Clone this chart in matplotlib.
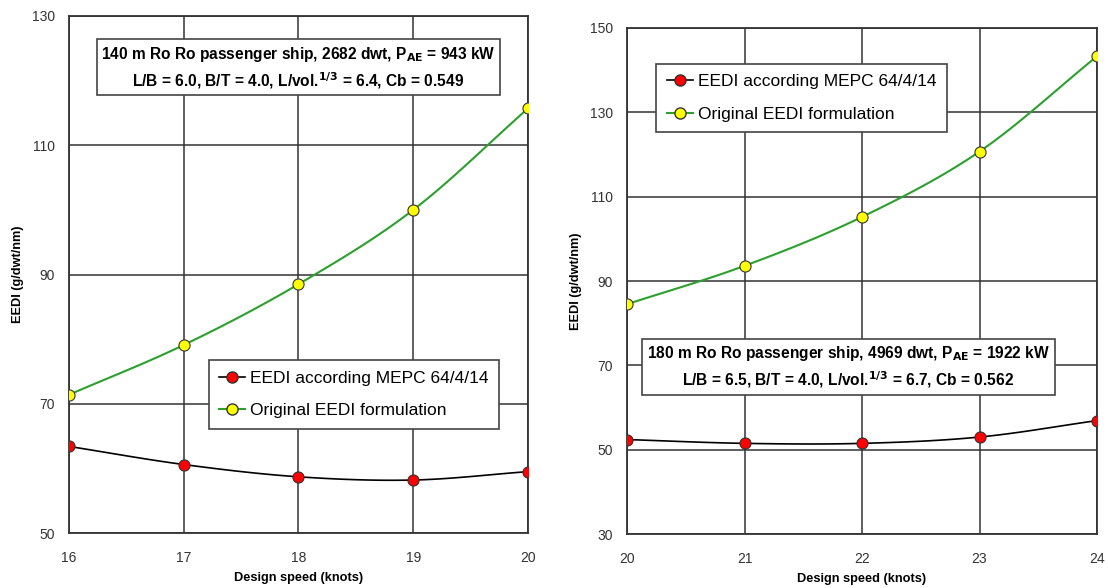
import numpy as np
import matplotlib
matplotlib.use('Agg')
import matplotlib.pyplot as plt

plt.rcParams['font.family'] = ['Liberation Sans', 'DejaVu Sans']

# left chart: 140 m ship
speed_a = [16, 17, 18, 19, 20]
mepc_a = [63.4, 60.6, 58.7, 58.2, 59.5]
orig_a = [71.4, 79.1, 88.5, 100.0, 115.7]

# right chart: 180 m ship
speed_b = [20, 21, 22, 23, 24]
mepc_b = [52.4, 51.5, 51.5, 53.0, 56.9]
orig_b = [84.5, 93.6, 105.2, 120.7, 143.3]

label_mepc = 'EEDI according MEPC 64/4/14'
label_orig = 'Original EEDI formulation'

info_a = ('140 m Ro Ro passenger ship, 2682 dwt, P$_{\\mathbf{AE}}$ = 943 kW\n'
          'L/B = 6.0, B/T = 4.0, L/vol.$^{\\mathbf{1/3}}$ = 6.4, Cb = 0.549')
info_b = ('180 m Ro Ro passenger ship, 4969 dwt, P$_{\\mathbf{AE}}$ = 1922 kW\n'
          'L/B = 6.5, B/T = 4.0, L/vol.$^{\\mathbf{1/3}}$ = 6.7, Cb = 0.562')


def smooth(x, y, n=20):
    # catmull-rom style smoothing like the spreadsheet "smoothed line"
    x = np.asarray(x, float)
    y = np.asarray(y, float)
    px = np.concatenate([[2 * x[0] - x[1]], x, [2 * x[-1] - x[-2]]])
    py = np.concatenate([[2 * y[0] - y[1]], y, [2 * y[-1] - y[-2]]])
    xs, ys = [], []
    t = np.linspace(0, 1, n)
    for i in range(1, len(px) - 2):
        for p, out in ((px, xs), (py, ys)):
            p0, p1, p2, p3 = p[i - 1], p[i], p[i + 1], p[i + 2]
            out.extend(0.5 * ((2 * p1) + (-p0 + p2) * t +
                              (2 * p0 - 5 * p1 + 4 * p2 - p3) * t ** 2 +
                              (-p0 + 3 * p1 - 3 * p2 + p3) * t ** 3))
    return xs, ys


def draw(ax, speed, mepc, orig, ylim, info, info_pos, leg_anchor):
    sx, sy = smooth(speed, mepc)
    ax.plot(sx, sy, color='black', lw=1.2, zorder=3)
    ox, oy = smooth(speed, orig)
    ax.plot(ox, oy, color='#2ca02c', lw=1.5, zorder=3)
    ax.plot(speed, mepc, 'o', color='red', mec='#333333', mew=0.8, ms=8, zorder=4)
    ax.plot(speed, orig, 'o', color='yellow', mec='#333333', mew=0.8, ms=8, zorder=4)
    # proxy handles for legend
    h1, = ax.plot([], [], '-o', color='black', mfc='red', mec='#333333', ms=8, lw=1.2)
    h2, = ax.plot([], [], '-o', color='#2ca02c', mfc='yellow', mec='#333333', ms=8, lw=1.5)
    leg = ax.legend([h1, h2], [label_mepc, label_orig], loc='upper left',
                    bbox_to_anchor=leg_anchor, fontsize=12.5, fancybox=False,
                    framealpha=1, edgecolor='#444444', handlelength=1.5,
                    handletextpad=0.3, borderpad=0.6, labelspacing=1.0,
                    borderaxespad=0)
    leg.get_frame().set_linewidth(1.2)
    ax.text(info_pos[0], info_pos[1], info, transform=ax.transAxes, ha='center',
            va='center', fontsize=11.2, fontweight='bold', linespacing=1.4,
            bbox=dict(boxstyle='square,pad=0.3', fc='white', ec='#444444', lw=1.2),
            zorder=5)
    ax.set_xlim(speed[0], speed[-1])
    ax.set_ylim(*ylim)
    ax.set_xticks(speed)
    ax.set_yticks(np.arange(ylim[0], ylim[1] + 1, 20))
    ax.grid(True, color='#333333', lw=1.1)
    ax.set_axisbelow(True)
    for s in ax.spines.values():
        s.set_color('#333333')
        s.set_linewidth(1.3)
    ax.tick_params(labelsize=10, colors='#333333', length=0)
    ax.tick_params(axis='y', pad=10)
    ax.tick_params(axis='x', pad=13)
    ax.set_xlabel('Design speed (knots)', fontsize=9.2, fontweight='bold', labelpad=5)
    ax.set_ylabel('EEDI (g/dwt/nm)', fontsize=9.2, fontweight='bold', labelpad=6)


fig = plt.figure(figsize=(11.08, 5.88), dpi=100)
ax1 = fig.add_axes([0.0623, 0.0935, 0.4142, 0.8793])
ax2 = fig.add_axes([0.5659, 0.0918, 0.4242, 0.8606])

draw(ax1, speed_a, mepc_a, orig_a, (50, 130), info_a, (0.5, 0.9), (0.304, 0.334))
draw(ax2, speed_b, mepc_b, orig_b, (30, 150), info_b, (0.471, 0.33), (0.062, 0.929))

fig.savefig('out.png', dpi=100)
